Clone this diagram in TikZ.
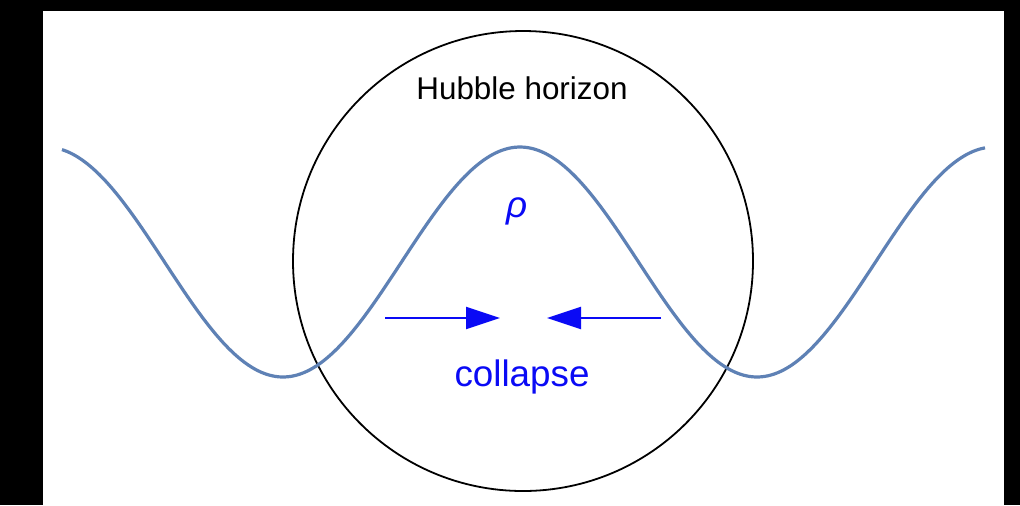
\documentclass[tikz,border=0pt]{standalone}
\usepackage{fontspec}
\setmainfont{Liberation Sans}
\usetikzlibrary{arrows.meta}
\definecolor{wave}{RGB}{94,129,181}
\definecolor{lab}{RGB}{10,10,245}
\begin{document}
\begin{tikzpicture}[x=0.5pt,y=-0.5pt,
  lbl/.style={text=lab,font=\fontsize{18.4}{20}\selectfont,inner sep=0},
  push/.style={draw=lab,line width=1.1pt,-{Triangle[length=17pt,width=11pt]}}]
\fill[black] (0,0) rectangle (1020,505);
\fill[white] (43,11) rectangle (1004,505);
\useasboundingbox (0,0) rectangle (1020,505);
\node[draw=black,line width=0.9pt,circle,minimum size=460*0.5pt,inner sep=0] (horizon) at (523,261) {};
\draw[wave,line width=1.6pt,smooth,samples=150,domain=62:985] plot (\x,{262-115*cos(0.75949*(\x-520))});
\node[font=\fontsize{15.7}{18}\selectfont,inner sep=0] (title) at (522,88) {Hubble horizon};
\node[lbl] (rho) at (517,211) {\itshape ρ};
\node[lbl] (coll) at (522,377) {collapse};
\coordinate (la) at (385,318);
\coordinate (lb) at (500,318);
\coordinate (ra) at (661,318);
\coordinate (rb) at (547,318);
\draw[push] (la) -- (lb);
\draw[push] (ra) -- (rb);
\end{tikzpicture}
\end{document}
